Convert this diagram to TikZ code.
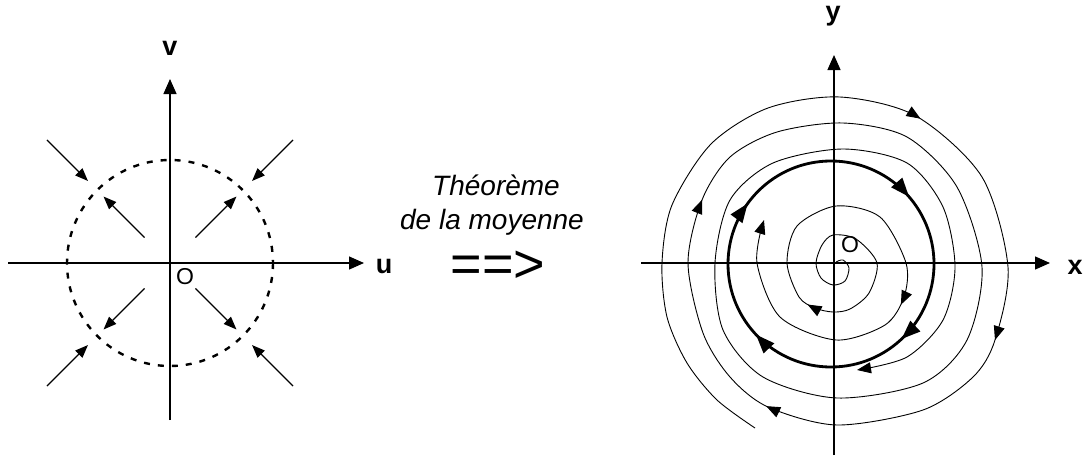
\documentclass[tikz,border=0pt]{standalone}
\usepackage{fontspec}
\setmainfont{Liberation Sans}
\usetikzlibrary{calc,arrows.meta,decorations.markings}

\begin{document}
\begin{tikzpicture}[x=1pt,y=-1pt,
  axe/.style={line width=1.3pt,-{Triangle[length=15pt,width=13pt]}},
  fleche/.style={line width=1.1pt,-{Triangle[length=13pt,width=10pt]}},
  traj/.style={line width=0.9pt},
  axlabel/.style={font=\fontsize{27}{27}\selectfont\bfseries},
  origine/.style={font=\fontsize{23}{23}\selectfont},
  texte/.style={font=\fontsize{28}{34}\selectfont\itshape,anchor=base},
  >={Triangle[length=14pt,width=11pt]}]
\useasboundingbox (0,0) rectangle (1083,455);
\coordinate (O1) at (170,263);
\coordinate (O2) at (834,263);
\coordinate (C) at (831,264);
% plan (u,v)
\draw[axe] (8,263) -- (364,263);
\draw[axe] (170,420) -- (170,79);
\draw[line width=2.4pt,dash pattern=on 6pt off 8pt] (O1) circle (103);
\foreach \a in {45,135,225,315}{
  \draw[fleche] ($(O1)+(\a:174)$) -- ($(O1)+(\a:116)$);
  \draw[fleche] ($(O1)+(\a:36)$) -- ($(O1)+(\a:94)$);
}
\node[axlabel] (v) at (170,48) {v};
\node[axlabel] (u) at (384,266) {u};
\node[origine] (o1) at (185,277) {O};
% theoreme
\node[texte] (theo) at (496,195) {Théorème};
\node[texte] (moy) at (492,229) {de la moyenne};
\node[font=\fontsize{54}{54}\selectfont] (impl) at (498,267) {==>};
% plan (x,y)
\draw[axe] (641,263) -- (1050,263);
\draw[axe] (834,455) -- (834,55);
\draw[line width=2.8pt,postaction={decorate},decoration={markings,
  mark=at position 0.13 with {\arrow{Triangle[length=19pt,width=14pt]}},
  mark=at position 0.38 with {\arrow{Triangle[length=19pt,width=14pt]}},
  mark=at position 0.60 with {\arrow{Triangle[length=19pt,width=14pt]}},
  mark=at position 0.887 with {\arrow{Triangle[length=19pt,width=14pt]}}}]
  (C) circle (103);
% spirale exterieure
\draw[traj,->,postaction={decorate},decoration={markings,
  mark=at position 0.208 with {\arrow{>}},
  mark=at position 0.303 with {\arrow{>}},
  mark=at position 0.402 with {\arrow{>}},
  mark=at position 0.49 with {\arrow{>}}}]
  plot[smooth] coordinates {(755,428) (717,400) (687,363) (667,317) (662,263)
  (672,205) (711,144) (768,108) (840,97) (916,116) (982,177) (1008,267)
  (995,340) (973,377) (923,410) (837,425) (768,407) (730,377) (703,333)
  (688,263) (702,200) (730,157) (777,132) (843,123) (907,137) (957,187)
  (982,267) (967,340) (923,383) (837,398) (763,377) (723,330) (715,263)
  (730,200) (773,163) (843,149) (907,163) (943,207) (955,267) (943,320)
  (907,357) (857,370)};
% spirale interieure
\draw[traj,->,postaction={decorate},decoration={markings,
  mark=at position 0.34 with {\arrow{>}},
  mark=at position 0.69 with {\arrow{>}}}]
  plot[smooth] coordinates {(836,262) (843,260) (849,268) (845,281) (833,285)
  (821,278) (816,263) (822,245) (833,235) (856,239) (877,263) (869,293)
  (850,309) (833,312) (815,308) (799,297) (787,263) (797,226) (836,206)
  (880,217) (906,263) (904,297) (885,325) (836,340) (780,317) (757,263)
  (764,220)};
\node[axlabel] (y) at (833,16) {y};
\node[axlabel] (x) at (1075,267) {x};
\node[origine] (o2) at (850,245) {O};
\end{tikzpicture}
\end{document}
